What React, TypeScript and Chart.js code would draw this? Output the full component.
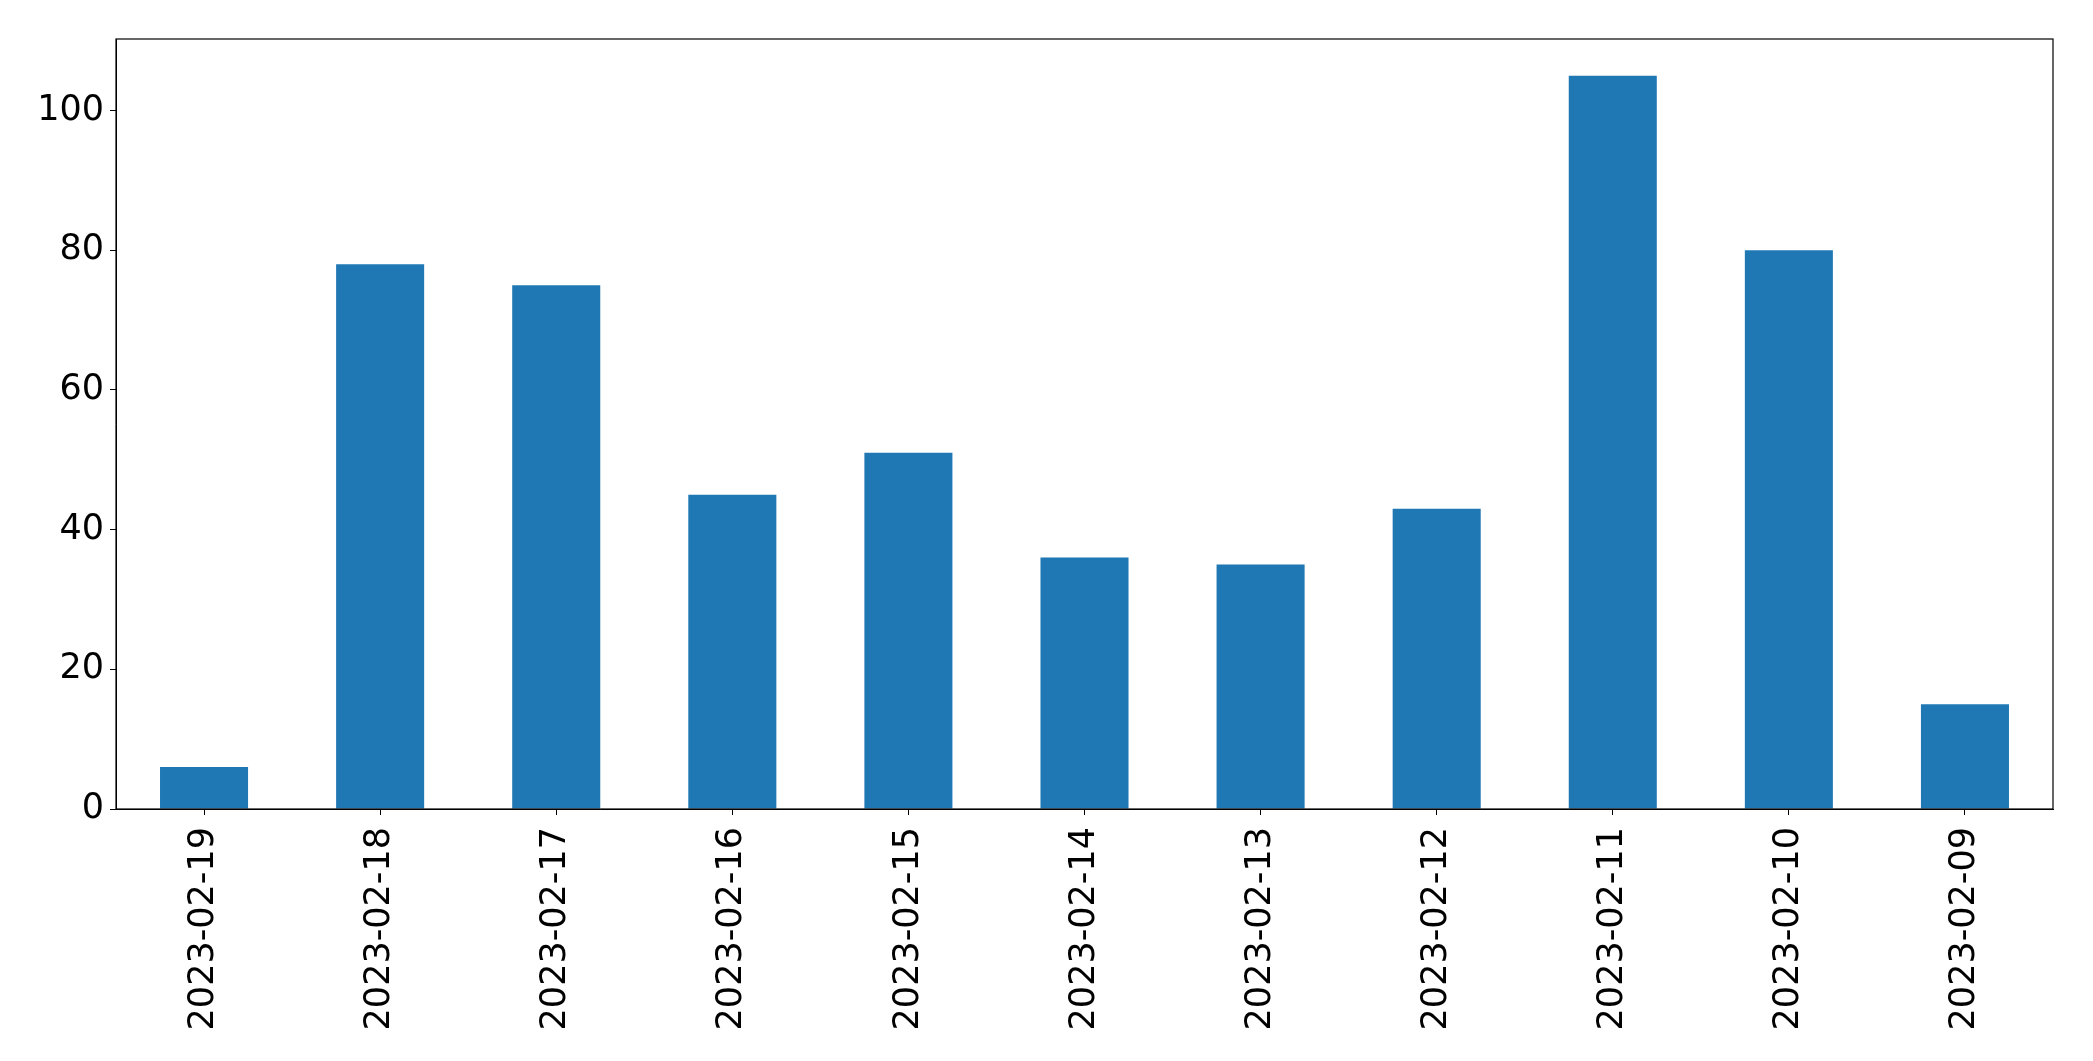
import React, { useEffect, useRef } from "react";
import { Chart, registerables } from "chart.js";

Chart.register(...registerables);

const categories = [
  "2023-02-19",
  "2023-02-18",
  "2023-02-17",
  "2023-02-16",
  "2023-02-15",
  "2023-02-14",
  "2023-02-13",
  "2023-02-12",
  "2023-02-11",
  "2023-02-10",
  "2023-02-09",
];
const counts = [6, 78, 75, 45, 51, 36, 35, 43, 105, 80, 15];
const yTicks = [0, 20, 40, 60, 80, 100];
const yMax = 110.25;

const W = 2093;
const H = 1061;

const frame = {
  id: "frame",
  afterDraw(chart: any) {
    const { ctx, chartArea } = chart;
    ctx.save();
    ctx.strokeStyle = "#000";
    ctx.lineWidth = 1.2;
    ctx.strokeRect(chartArea.left, chartArea.top, chartArea.right - chartArea.left, chartArea.bottom - chartArea.top);
    ctx.restore();
  },
};

export default function App() {
  const ref = useRef<HTMLCanvasElement | null>(null);
  useEffect(() => {
    if (!ref.current) return;
    const chart = new Chart(ref.current, {
      type: "bar",
      data: {
        labels: categories,
        datasets: [
          {
            data: counts,
            backgroundColor: "#1f77b4",
            borderWidth: 0,
            categoryPercentage: 1,
            barPercentage: 0.5,
          },
        ],
      },
      options: {
        responsive: false,
        animation: false,
        devicePixelRatio: 1,
        layout: { padding: { top: 39, right: 40, left: 0, bottom: 0 } },
        plugins: { legend: { display: false }, tooltip: { enabled: false }, title: { display: false } },
        scales: {
          x: {
            offset: true,
            grid: { display: true, drawOnChartArea: false, drawTicks: true, tickLength: 6, color: "#000", offset: false },
            border: { display: true, color: "#000", width: 1 },
            ticks: {
              color: "#000",
              font: { family: "DejaVu Sans", size: 35 },
              minRotation: 90,
              maxRotation: 90,
              padding: 12,
              autoSkip: false,
            },
            afterFit(scale: any) {
              scale.height = 252;
            },
          },
          y: {
            min: 0,
            max: yMax,
            grid: { display: true, drawOnChartArea: false, drawTicks: true, tickLength: 6, color: "#000" },
            border: { display: true, color: "#000", width: 1 },
            ticks: {
              color: "#000",
              font: { family: "DejaVu Sans", size: 35 },
              padding: 6,
            },
            afterBuildTicks(scale: any) {
              scale.ticks = yTicks.map((v) => ({ value: v }));
            },
            afterFit(scale: any) {
              scale.width = 116;
            },
          },
        },
      },
      plugins: [frame],
    });
    return () => chart.destroy();
  }, []);
  return (
    <div style={{ position: "fixed", left: 0, top: 0, width: W, height: H, background: "#fff" }}>
      <canvas ref={ref} width={W} height={H} style={{ width: W, height: H, display: "block" }} />
    </div>
  );
}
